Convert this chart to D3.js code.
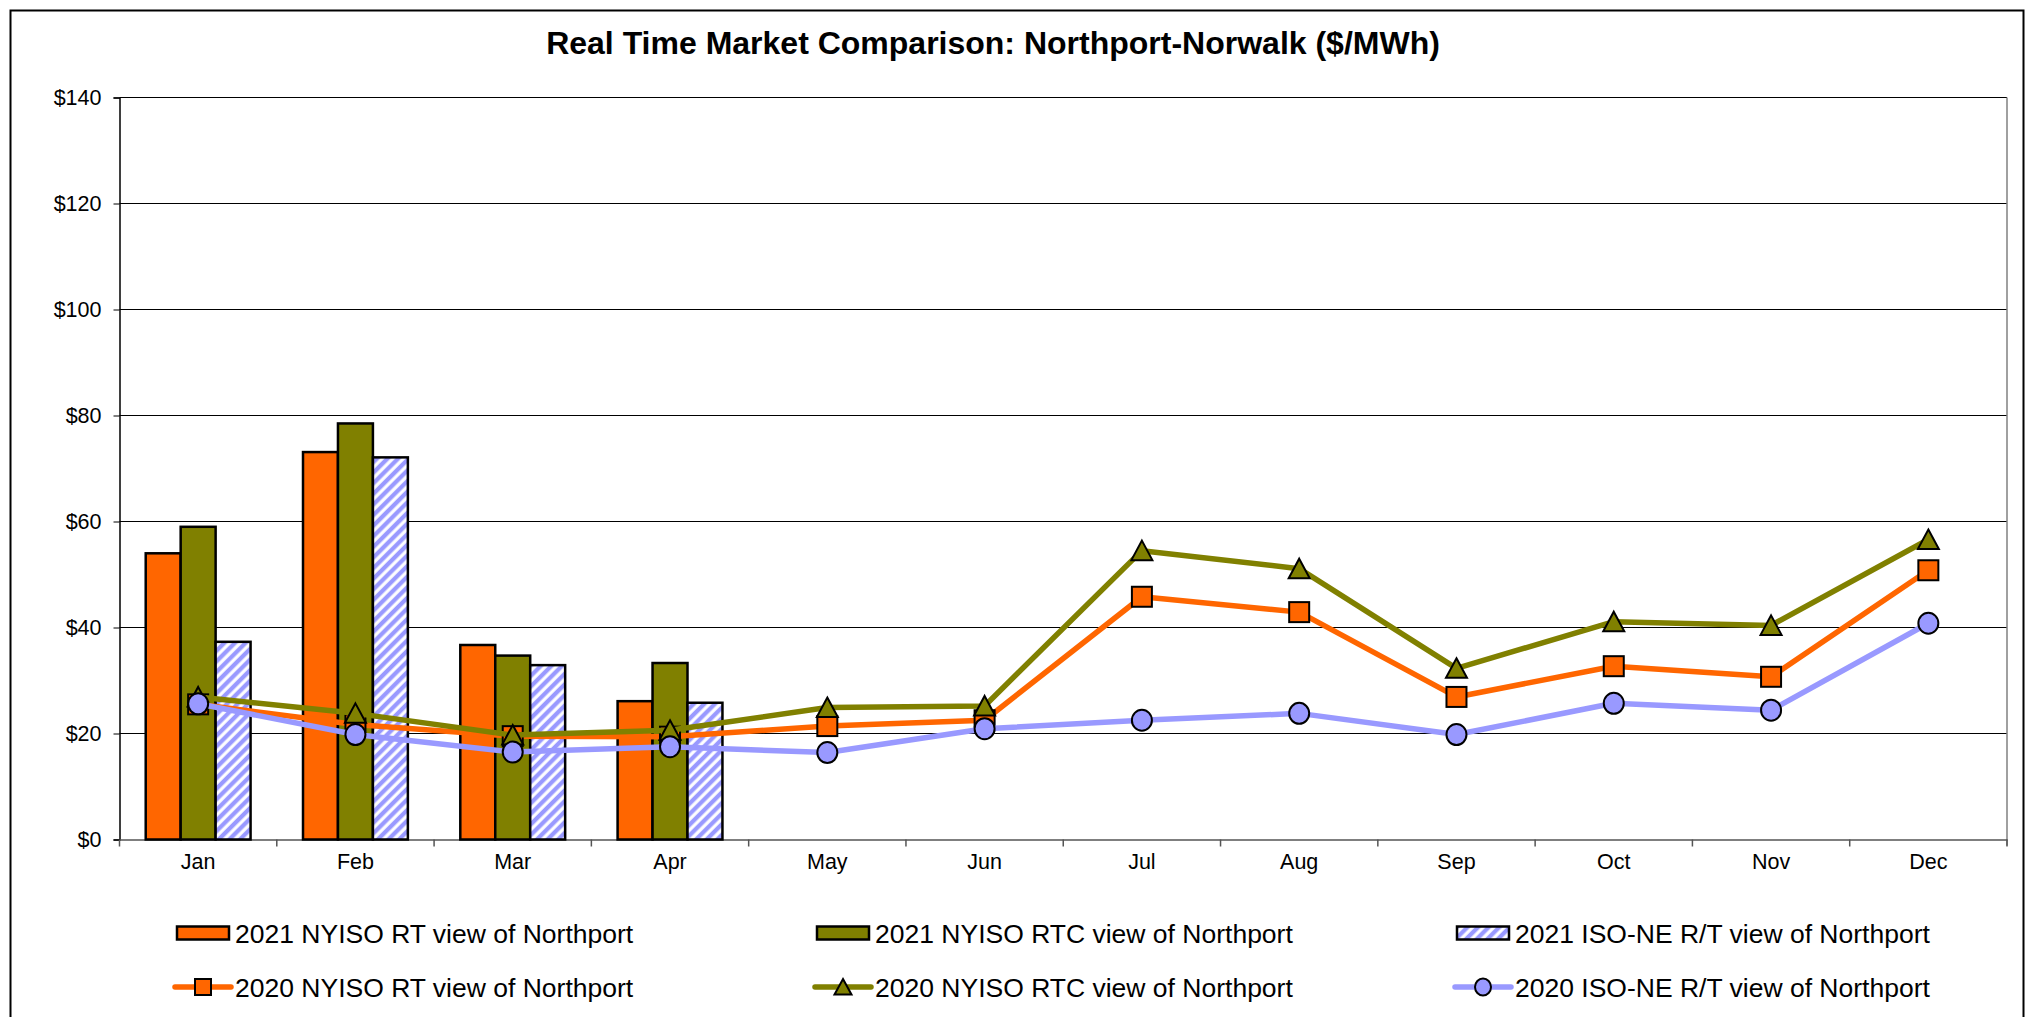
<!DOCTYPE html>
<html>
<head>
<meta charset="utf-8">
<script src="https://cdn.jsdelivr.net/npm/d3@7"></script>
<style>
  html, body { margin: 0; padding: 0; background: #fff; }
  svg { display: block; font-family: "Liberation Sans", Arial, sans-serif; }
</style>
</head>
<body>
<svg id="chart" width="2034" height="1017"></svg>
<script>
// ---------------- data ----------------
const titleText = "Real Time Market Comparison: Northport-Norwalk ($/MWh)";
const months = ["Jan","Feb","Mar","Apr","May","Jun","Jul","Aug","Sep","Oct","Nov","Dec"];
const yTicks = [0, 20, 40, 60, 80, 100, 120, 140];

// 2021 bars (Jan-Apr)
const rt2021  = [54.0, 73.1, 36.7, 26.1];
const rtc2021 = [59.0, 78.5, 34.7, 33.3];
const iso2021 = [37.3, 72.1, 32.9, 25.8];

// 2020 lines (Jan-Dec)
const rt2020  = [25.5, 21.7, 19.5, 19.4, 21.4, 22.5, 45.8, 42.9, 26.9, 32.7, 30.7, 50.8];
const rtc2020 = [26.9, 23.8, 19.7, 20.6, 24.9, 25.2, 54.5, 51.1, 32.3, 41.1, 40.4, 56.6];
const iso2020 = [25.6, 19.8, 16.5, 17.5, 16.4, 20.9, 22.5, 23.8, 19.8, 25.7, 24.4, 40.8];

const barNames  = ["2021 NYISO RT view of Northport", "2021 NYISO RTC view of Northport", "2021 ISO-NE R/T view of Northport"];
const lineNames = ["2020 NYISO RT view of Northport", "2020 NYISO RTC view of Northport", "2020 ISO-NE R/T view of Northport"];

// ---------------- styles ----------------
const ORANGE = "#FF6600", OLIVE = "#808000", LAV = "#9999FF";

const svg = d3.select("#chart");
const defs = svg.append("defs");
const P = 7.5;
const pat = defs.append("pattern")
  .attr("id", "hatch").attr("patternUnits", "userSpaceOnUse")
  .attr("width", P).attr("height", P)
  .attr("patternTransform", "rotate(45)");
pat.append("rect").attr("width", P).attr("height", P).attr("fill", LAV);
pat.append("line").attr("x1", 2).attr("y1", 0).attr("x2", 2).attr("y2", P)
  .attr("stroke", "#fff").attr("stroke-width", 3.2);

// outer chart border
svg.append("rect").attr("x", 10.5).attr("y", 10.5).attr("width", 2013).attr("height", 1100)
  .attr("fill", "none").attr("stroke", "#000").attr("stroke-width", 2);

// title
svg.append("text").attr("x", 993).attr("y", 54).attr("text-anchor", "middle")
  .attr("font-size", 32).attr("font-weight", "bold").attr("fill", "#000").text(titleText);

const L = 119.5, R = 2007, T = 97.5, B = 839.5;
const x = d3.scaleBand().domain(months).range([L, R]).padding(0);
const y = d3.scaleLinear().domain([0, 140]).range([B, T]);
const bw = x.bandwidth();
const xg = d3.scaleBand().domain([0, 1, 2]).range([bw / 6, bw * 5 / 6]).padding(0);

// gridlines
svg.append("g").selectAll("line").data(yTicks.filter(d => d > 0)).join("line")
  .attr("x1", L).attr("x2", R).attr("y1", d => y(d)).attr("y2", d => y(d))
  .attr("stroke", "#000").attr("stroke-width", 1.2);

// right plot border
svg.append("line").attr("x1", R).attr("x2", R).attr("y1", T).attr("y2", B + 6)
  .attr("stroke", "#808080").attr("stroke-width", 1.5);

// y axis
const yAxis = svg.append("g").attr("transform", `translate(${L},0)`)
  .call(d3.axisLeft(y).tickValues(yTicks).tickFormat(d => "$" + d).tickSize(6).tickPadding(12));
yAxis.select(".domain").attr("stroke", "#000").attr("stroke-width", 1.5);
yAxis.selectAll(".tick line").attr("stroke", "#000");
yAxis.selectAll("text").attr("font-size", 21.5).attr("fill", "#000")
  .attr("font-family", "'Liberation Sans', Arial, sans-serif");

// x axis
const xAxis = svg.append("g").attr("transform", `translate(0,${B})`)
  .call(d3.axisBottom(x).tickSize(0).tickPadding(14));
xAxis.select(".domain").attr("stroke", "#555").attr("stroke-width", 1.5);
xAxis.selectAll("text").attr("font-size", 21.5).attr("fill", "#000")
  .attr("font-family", "'Liberation Sans', Arial, sans-serif");
// boundary ticks
const bounds = months.map(m => x(m)).concat([x(months[months.length - 1]) + bw]);
svg.append("g").selectAll("line").data(bounds).join("line")
  .attr("x1", d => d).attr("x2", d => d).attr("y1", B).attr("y2", B + 7)
  .attr("stroke", "#555").attr("stroke-width", 1.5);

// bars
const barSeries = [
  { vals: rt2021, fill: ORANGE },
  { vals: rtc2021, fill: OLIVE },
  { vals: iso2021, fill: "url(#hatch)" }
];
barSeries.forEach((s, i) => {
  svg.append("g").selectAll("rect").data(s.vals).join("rect")
    .attr("x", (d, j) => x(months[j]) + xg(i))
    .attr("width", xg.bandwidth())
    .attr("y", d => y(d))
    .attr("height", d => y(0) - y(d))
    .attr("fill", s.fill)
    .attr("stroke", "#000").attr("stroke-width", 2.5);
});

// lines
const cx = j => x(months[j]) + bw / 2;
const lineGen = d3.line().x((d, j) => cx(j)).y(d => y(d));
function marker(g, type, color, s) {
  if (type === "square") g.append("rect").attr("x", -s).attr("y", -s).attr("width", 2 * s).attr("height", 2 * s)
    .attr("fill", color).attr("stroke", "#000").attr("stroke-width", 2);
  else if (type === "triangle") g.append("path").attr("d", `M0,${-s}L${s + 0.5},${s - 0.5}L${-s - 0.5},${s - 0.5}Z`)
    .attr("fill", color).attr("stroke", "#000").attr("stroke-width", 2).attr("stroke-linejoin", "miter");
  else g.append("ellipse").attr("rx", s).attr("ry", s + 0.5)
    .attr("fill", color).attr("stroke", "#000").attr("stroke-width", 2);
}
const lineSeries = [
  { vals: rt2020, color: ORANGE, type: "square" },
  { vals: rtc2020, color: OLIVE, type: "triangle" },
  { vals: iso2020, color: LAV, type: "circle" }
];
lineSeries.forEach(s => {
  const g = svg.append("g");
  g.append("path").datum(s.vals).attr("d", lineGen)
    .attr("fill", "none").attr("stroke", s.color).attr("stroke-width", 5.5)
    .attr("stroke-linejoin", "round");
  g.selectAll("g.m").data(s.vals).join("g").attr("class", "m")
    .attr("transform", (d, j) => `translate(${cx(j)},${y(d)})`)
    .each(function () { marker(d3.select(this), s.type, s.color, 10); });
});

// legend
const colX = [177, 817, 1457];
const rowY = [933, 987];
const leg = svg.append("g").attr("font-size", 26.5).attr("fill", "#000");
barSeries.forEach((s, i) => {
  leg.append("rect").attr("x", colX[i]).attr("y", rowY[0] - 6.5).attr("width", 52).attr("height", 13)
    .attr("fill", s.fill).attr("stroke", "#000").attr("stroke-width", 2.5);
  leg.append("text").attr("x", colX[i] + 58).attr("y", rowY[0] + 9.5).text(barNames[i]);
});
lineSeries.forEach((s, i) => {
  leg.append("line").attr("x1", colX[i] - 2).attr("x2", colX[i] + 54).attr("y1", rowY[1]).attr("y2", rowY[1])
    .attr("stroke", s.color).attr("stroke-width", 5.5).attr("stroke-linecap", "round");
  const m = leg.append("g").attr("transform", `translate(${colX[i] + 26},${rowY[1]})`);
  marker(m, s.type, s.color, 8);
  leg.append("text").attr("x", colX[i] + 58).attr("y", rowY[1] + 9.5).text(lineNames[i]);
});
</script>
</body>
</html>
